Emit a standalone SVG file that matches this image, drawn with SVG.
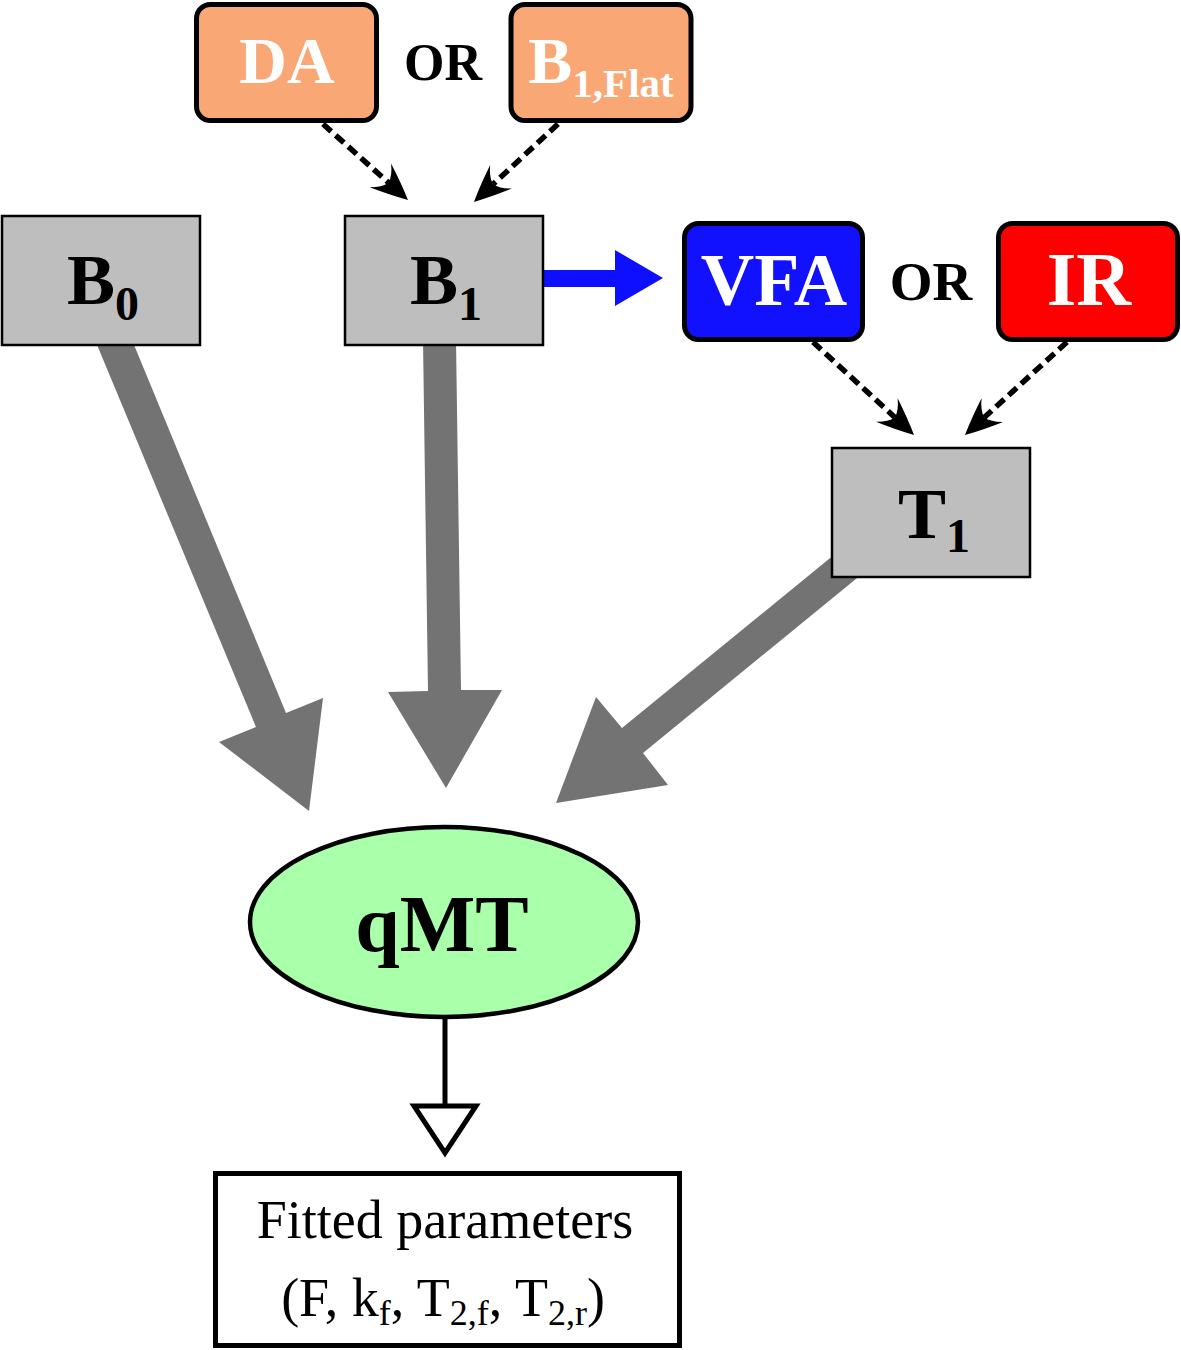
<svg xmlns="http://www.w3.org/2000/svg" width="1181" height="1350" viewBox="0 0 1181 1350">
<style>
text { font-family: "Liberation Serif", "Times New Roman", serif; }
.lbl { font-weight: bold; text-anchor: middle; }
.gray { fill: #bebebe; stroke: #000; stroke-width: 2.5; }
.src { stroke: #000; stroke-width: 5; }
.big { fill: #737373; }
.dash { fill: none; stroke: #000; stroke-width: 5.5; stroke-dasharray: 11 6; marker-end: url(#head); }
.white { fill: #fff; }
</style>
<defs>
<marker id="head" markerUnits="userSpaceOnUse" viewBox="-45 -22 55 44" markerWidth="55" markerHeight="44" refX="-26" refY="0" orient="auto">
<path d="M0,0 Q-16,-8 -37,-16 Q-28,-8 -26,0 Q-28,8 -37,16 Q-16,8 0,0 Z" fill="#000"/>
</marker>
</defs>
<rect width="1181" height="1350" fill="#fff"/>
<g id="connectors">
<polygon class="big" points="95,340 132,340 286,713 323,698 309,811 219,742 256,727"/>
<polygon class="big" points="423,340 456,340 461,690 502,690 446,788 388,692 428,691"/>
<polygon class="big" points="846,545 873,565 643,753 668,785 556,803 596,697 622,728"/>
<polygon fill="#0f0fff" points="543,270 615,270 615,250 663,278 615,306 615,287 543,287"/>
<path class="dash" d="M323,124 L388.6,182.7"/>
<path class="dash" d="M558,124 L493,184.3"/>
<path class="dash" d="M813,342 L894.9,417.4"/>
<path class="dash" d="M1067,342 L984.2,417.5"/>
<line x1="445" y1="1019" x2="445" y2="1106" stroke="#000" stroke-width="5"/>
<polygon points="414,1106 476,1106 445,1153" fill="#fff" stroke="#000" stroke-width="5" stroke-linejoin="miter"/>
</g>
<g id="node-DA">
<rect class="src" x="196.5" y="4.5" width="180" height="116" rx="14" fill="#f9a775"/>
<text class="lbl white" x="287" y="83" font-size="66">DA</text>
</g>
<g id="or-1">
<text class="lbl" x="443" y="80" font-size="52">OR</text>
</g>
<g id="node-B1Flat">
<rect class="src" x="511" y="4.5" width="180" height="116" rx="14" fill="#f9a775"/>
<text class="lbl white" x="601" y="83" font-size="66">B<tspan font-size="41" dy="14">1,Flat</tspan></text>
</g>
<g id="node-B0">
<rect class="gray" x="2" y="216" width="198" height="129"/>
<text class="lbl" x="103" y="304" font-size="72">B<tspan font-size="48" dy="16">0</tspan></text>
</g>
<g id="node-B1">
<rect class="gray" x="345" y="216" width="198" height="129"/>
<text class="lbl" x="446" y="304" font-size="72">B<tspan font-size="48" dy="16">1</tspan></text>
</g>
<g id="node-VFA">
<rect class="src" x="684.5" y="223.5" width="178" height="116" rx="14" fill="#1111ff"/>
<text class="lbl white" x="774" y="305" font-size="74">VFA</text>
</g>
<g id="or-2">
<text class="lbl" x="931" y="300" font-size="55">OR</text>
</g>
<g id="node-IR">
<rect class="src" x="998.5" y="223.5" width="179" height="116" rx="14" fill="#ff0000"/>
<text class="lbl white" x="1089" y="305" font-size="76">IR</text>
</g>
<g id="node-T1">
<rect class="gray" x="832" y="448" width="198" height="129"/>
<text class="lbl" x="934" y="538" font-size="72">T<tspan font-size="48" dy="14">1</tspan></text>
</g>
<g id="node-qMT">
<ellipse cx="444" cy="922" rx="194" ry="95" fill="#aaffaa" stroke="#000" stroke-width="4.5"/>
<text class="lbl" x="442" y="951" font-size="80">qMT</text>
</g>
<g id="node-fitted">
<rect x="215.5" y="1173.5" width="464" height="172" fill="#fff" stroke="#000" stroke-width="5"/>
<text x="445" y="1238" font-size="54" text-anchor="middle">Fitted parameters</text>
<text x="443" y="1316" font-size="54" text-anchor="middle">(F, k<tspan font-size="36" dy="9">f</tspan><tspan dy="-9">, T</tspan><tspan font-size="36" dy="9">2,f</tspan><tspan dy="-9">, T</tspan><tspan font-size="36" dy="9">2,r</tspan><tspan dy="-9">)</tspan></text>
</g>
</svg>
